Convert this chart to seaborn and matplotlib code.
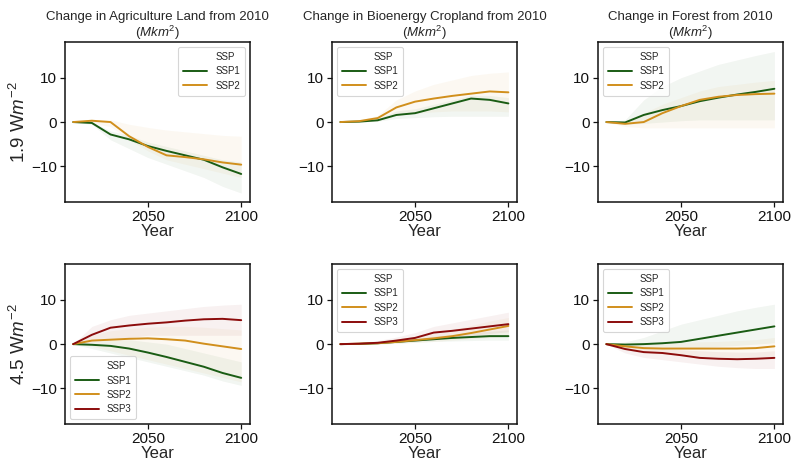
import pandas as pd
import matplotlib
matplotlib.use("Agg")
import matplotlib.pyplot as plt
from matplotlib.lines import Line2D
import seaborn as sns

years = [2010, 2020, 2030, 2040, 2050, 2060, 2070, 2080, 2090, 2100]

# 1.9 W/m2, agriculture land
ag19 = {"SSP1": [0, -0.2, -2.8, -3.9, -5.4, -6.5, -7.5, -8.5, -10.2, -11.7],
        "SSP2": [0, 0.3, 0.0, -3.2, -5.6, -7.5, -7.9, -8.4, -9.1, -9.6]}
ag19_lo = {"SSP1": [0, -0.5, -4, -6, -8, -9.5, -11, -12.5, -14.5, -16],
           "SSP2": [0, -0.3, -1, -4, -6.5, -8.5, -9.5, -10.5, -11.5, -12.5]}
ag19_hi = {"SSP1": [0, 0, -2, -3, -4.5, -5.5, -6.5, -7.5, -8.5, -9],
           "SSP2": [0, 0.5, 0.5, -0.5, -1.2, -1.8, -2.2, -2.6, -3.0, -3.2]}

# 1.9 W/m2, bioenergy cropland
bio19 = {"SSP1": [0, 0.1, 0.4, 1.6, 2.0, 3.1, 4.2, 5.3, 5.0, 4.2],
         "SSP2": [0, 0.2, 0.9, 3.3, 4.6, 5.3, 5.9, 6.4, 6.9, 6.7]}
bio19_lo = {"SSP1": [0, 0, 0.2, 0.8, 1.0, 1.2, 1.3, 1.3, 1.3, 1.3],
            "SSP2": [0, 0, 0.3, 1.5, 2.0, 2.3, 2.5, 2.5, 2.5, 2.3]}
bio19_hi = {"SSP1": [0, 0.2, 0.8, 2.5, 3, 4.0, 5, 6, 6, 5.5],
            "SSP2": [0, 0.4, 1.5, 5, 7, 8.5, 9.5, 10.5, 11, 11.3]}

# 1.9 W/m2, forest
for19 = {"SSP1": [0, -0.1, 1.6, 2.7, 3.6, 4.7, 5.5, 6.2, 6.8, 7.5],
         "SSP2": [0, -0.4, 0.0, 2.0, 3.6, 5.0, 5.7, 6.1, 6.3, 6.4]}
for19_lo = {"SSP1": [0, -0.5, -0.3, 0, 0.3, 0.5, 0.5, 0.5, 0.5, 0.5],
            "SSP2": [0, -1, -1.3, -1.3, -1.3, -1.3, -1.3, -1.3, -1.3, -1.3]}
for19_hi = {"SSP1": [0, 0.5, 5, 8, 10, 11.5, 13, 14, 15, 15.9],
            "SSP2": [0, 0.3, 2, 4, 5.5, 7, 8, 8.5, 9, 9.4]}

# 4.5 W/m2, agriculture land
ag45 = {"SSP1": [0, -0.15, -0.4, -1.0, -1.9, -2.9, -4.0, -5.1, -6.5, -7.6],
        "SSP2": [0, 0.8, 1.0, 1.2, 1.3, 1.1, 0.8, 0.1, -0.5, -1.1],
        "SSP3": [0, 2.1, 3.7, 4.2, 4.6, 4.9, 5.3, 5.6, 5.7, 5.4]}
ag45_lo = {"SSP1": [0, -1, -2, -3, -4, -5, -6, -7, -8.3, -9.3],
           "SSP2": [0, -0.5, -1.5, -2.5, -3.5, -4.5, -5.5, -6.5, -7.5, -8.5],
           "SSP3": [0, 0.5, 1, 1.5, 2, 2, 2, 2, 2, 2]}
ag45_hi = {"SSP1": [0, 0.5, 1, 1, 0.5, 0, -1, -2, -3, -4],
           "SSP2": [0, 2, 3, 3.5, 3.8, 4, 4, 3.8, 3.5, 3.2],
           "SSP3": [0, 4, 5.5, 6.5, 7, 7.5, 8, 8.5, 8.8, 9]}

# 4.5 W/m2, bioenergy cropland
bio45 = {"SSP1": [0, 0.05, 0.2, 0.5, 0.8, 1.1, 1.4, 1.6, 1.8, 1.8],
         "SSP2": [0, 0.1, 0.2, 0.5, 0.9, 1.3, 1.8, 2.5, 3.3, 4.1],
         "SSP3": [0, 0.1, 0.3, 0.8, 1.4, 2.6, 3.0, 3.5, 4.0, 4.5]}
bio45_lo = {"SSP1": [0, 0, 0, 0.2, 0.4, 0.6, 0.7, 0.8, 0.9, 0.9],
            "SSP2": [0, 0, 0, 0.2, 0.4, 0.6, 0.9, 1.2, 1.5, 1.8],
            "SSP3": [0, 0, 0.1, 0.4, 0.7, 1.2, 1.6, 2, 2.4, 2.8]}
bio45_hi = {"SSP1": [0, 0.2, 0.5, 0.9, 1.3, 1.8, 2.2, 2.6, 2.9, 3.2],
            "SSP2": [0, 0.3, 0.6, 1.1, 1.7, 2.5, 3.3, 4.2, 5.2, 6.0],
            "SSP3": [0, 0.3, 0.8, 1.6, 2.6, 4.0, 4.8, 5.6, 6.4, 7.2]}

# 4.5 W/m2, forest
for45 = {"SSP1": [0, -0.1, 0, 0.2, 0.5, 1.2, 1.9, 2.6, 3.3, 4.0],
         "SSP2": [0, -0.5, -0.9, -1.0, -1.0, -1.0, -1.0, -1.0, -0.9, -0.5],
         "SSP3": [0, -1.1, -1.8, -2.0, -2.5, -3.1, -3.3, -3.4, -3.3, -3.1]}
for45_lo = {"SSP1": [0, -0.5, -1, -1, -1, -0.8, -0.5, -0.3, 0, 0.3],
            "SSP2": [0, -1, -1.8, -2.2, -2.5, -2.8, -3, -3.2, -3.3, -3.3],
            "SSP3": [0, -2, -3, -3.5, -4, -4.5, -5, -5.3, -5.5, -5.5]}
for45_hi = {"SSP1": [0, 0.5, 1.5, 3, 4.5, 5.5, 6.5, 7.5, 8.3, 9],
            "SSP2": [0, 0, 0, 0.2, 0.4, 0.5, 0.6, 0.8, 1, 1.5],
            "SSP3": [0, -0.5, -1, -1, -1.3, -1.5, -1.7, -1.8, -1.8, -1.5]}

titles = ["Change in Agriculture Land from 2010\n($Mkm^2$)",
          "Change in Bioenergy Cropland from 2010\n($Mkm^2$)",
          "Change in Forest from 2010\n($Mkm^2$)"]
row_labels = ["1.9 W$m^{-2}$", "4.5 W$m^{-2}$"]
ssp_colors = {"SSP1": "#1a5c14", "SSP2": "#d18f1c", "SSP3": "#8c0c0c"}

panels = [[(ag19, ag19_lo, ag19_hi), (bio19, bio19_lo, bio19_hi), (for19, for19_lo, for19_hi)],
          [(ag45, ag45_lo, ag45_hi), (bio45, bio45_lo, bio45_hi), (for45, for45_lo, for45_hi)]]
legend_locs = [["upper right", "upper left", "upper left"],
               ["lower left", "upper left", "upper left"]]

sns.set_style("ticks")
plt.rcParams["font.family"] = ["Liberation Sans", "DejaVu Sans"]
plt.rcParams["mathtext.fontset"] = "custom"
plt.rcParams["mathtext.rm"] = "Liberation Sans"
plt.rcParams["mathtext.it"] = "Liberation Sans:italic"

fig = plt.figure(figsize=(8, 4.74), dpi=100)
lefts = [0.081, 0.415, 0.7475]
bottoms = [0.574, 0.1055]
w, h = 0.231, 0.337

for r in range(2):
    for c in range(3):
        ax = fig.add_axes([lefts[c], bottoms[r], w, h])
        mean, lo, hi = panels[r][c]
        rows = []
        for ssp, vals in mean.items():
            for y, v in zip(years, vals):
                rows.append({"Year": y, "value": v, "SSP": ssp})
        df = pd.DataFrame(rows)
        for ssp in mean:
            ax.fill_between(years, lo[ssp], hi[ssp], color=ssp_colors[ssp],
                            alpha=0.055, linewidth=0)
        sns.lineplot(data=df, x="Year", y="value", hue="SSP",
                     palette=ssp_colors, linewidth=1.4, ax=ax, legend=False)
        ax.set_ylim(-18, 18)
        ax.set_xlim(2005.5, 2104.5)
        ax.set_xticks([2050, 2100])
        ax.set_yticks([-10, 0, 10])
        ax.tick_params(labelsize=11, length=3.5, width=0.9, pad=2,
                       colors="#111111")
        ax.set_xlabel("Year", fontsize=12, labelpad=0)
        for s in ax.spines.values():
            s.set_linewidth(1.1)
            s.set_color("#111111")
        if c == 0:
            ax.set_ylabel(row_labels[r], fontsize=13.5, labelpad=2)
        else:
            ax.set_ylabel("")
        if r == 0:
            ax.set_title(titles[c], fontsize=9.5, pad=4, linespacing=1.05)
        handles = [Line2D([], [], color="none")]
        labels = ["SSP"]
        for ssp in mean:
            handles.append(Line2D([], [], color=ssp_colors[ssp], linewidth=1.4))
            labels.append(ssp)
        leg = ax.legend(handles, labels, loc=legend_locs[r][c], fontsize=7,
                        handlelength=2.5, handletextpad=0.8, labelspacing=0.45,
                        borderpad=0.5, frameon=True, fancybox=True)
        leg.get_frame().set_edgecolor("#cccccc")
        leg.get_frame().set_linewidth(0.8)

fig.savefig("out.png", dpi=100)
